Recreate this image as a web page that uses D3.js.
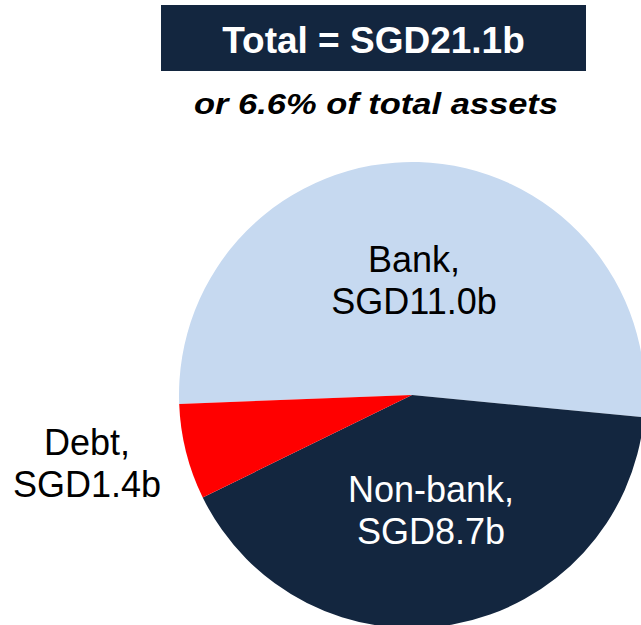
<!DOCTYPE html>
<html>
<head>
<meta charset="utf-8">
<script src="https://cdn.jsdelivr.net/npm/d3@7"></script>
<style>
  html, body { margin: 0; padding: 0; background: #ffffff; }
  svg { display: block; font-family: "Liberation Sans", Arial, sans-serif; }
</style>
</head>
<body>
<svg id="chart" width="641" height="625"></svg>
<script>
// Segments of the total, in SGD billions
const categories = ["Bank", "Non-bank", "Debt"];
const values = [11.0, 8.7, 1.4];
const valueLabels = ["SGD11.0b", "SGD8.7b", "SGD1.4b"];
const colors = ["#c6d9f0", "#13263f", "#ff0000"];
const labelColors = ["#000000", "#ffffff", "#000000"];
const totalLabel = "Total = SGD21.1b";
const subtitle = "or 6.6% of total assets";

const svg = d3.select("#chart");

// Header box
svg.append("rect")
  .attr("x", 161).attr("y", 5)
  .attr("width", 425).attr("height", 66)
  .attr("fill", "#13263f");
svg.append("text")
  .attr("x", 373.5).attr("y", 53)
  .attr("text-anchor", "middle")
  .attr("fill", "#ffffff")
  .attr("font-weight", "bold")
  .attr("font-size", 37)
  .text(totalLabel);
svg.append("text")
  .attr("x", 376).attr("y", 114)
  .attr("text-anchor", "middle")
  .attr("fill", "#000000")
  .attr("font-weight", "bold")
  .attr("font-style", "italic")
  .attr("font-size", 30)
  .attr("textLength", 364)
  .attr("lengthAdjust", "spacingAndGlyphs")
  .text(subtitle);

// Pie
const cx = 412, cy = 395, radius = 233;
const start = -92.2 * Math.PI / 180;
const pie = d3.pie().sort(null).value(d => d.value)
  .startAngle(start).endAngle(start + 2 * Math.PI);
const data = categories.map((c, i) => ({ name: c, value: values[i], label: valueLabels[i], i }));
const arcs = pie(data);
const arc = d3.arc().innerRadius(0).outerRadius(radius);

const g = svg.append("g").attr("transform", `translate(${cx},${cy})`);
g.selectAll("path")
  .data(arcs)
  .join("path")
  .attr("d", arc)
  .attr("fill", d => colors[d.data.i]);

// Label positions (relative to pie centre)
const labelPos = [
  { x: 2, y: -123 },   // Bank
  { x: 19, y: 107 },   // Non-bank
  { x: -325, y: 60 }   // Debt (outside)
];

arcs.forEach(d => {
  const p = labelPos[d.data.i];
  const t = g.append("text")
    .attr("text-anchor", "middle")
    .attr("font-size", 36)
    .attr("fill", labelColors[d.data.i]);
  t.append("tspan").attr("x", p.x).attr("y", p.y).text(d.data.name + ",");
  t.append("tspan").attr("x", p.x).attr("y", p.y + 42).text(d.data.label);
});
</script>
</body>
</html>
